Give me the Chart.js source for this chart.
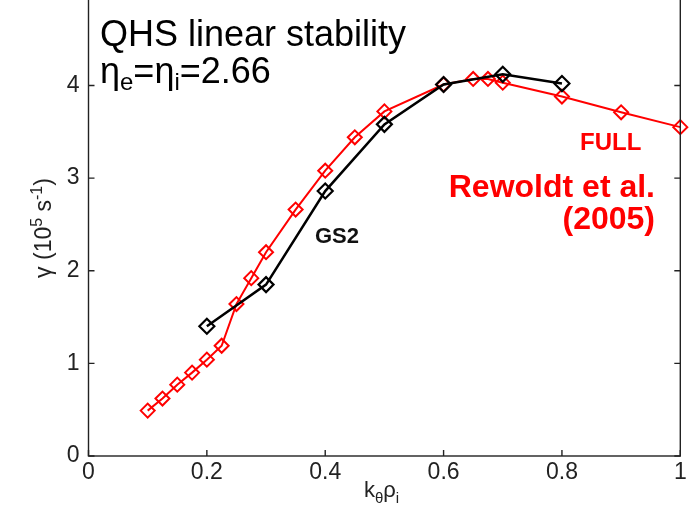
<!DOCTYPE html>
<html><head><meta charset="utf-8">
<script src="https://cdn.jsdelivr.net/npm/chart.js@4/dist/chart.umd.min.js"></script>
<style>
html,body{margin:0;padding:0;background:#fff;overflow:hidden;width:690px;height:506px;}
#wrap{position:absolute;left:0;top:-30px;width:690px;height:536px;}
</style></head><body>
<div id="wrap"><canvas id="c"></canvas></div>
<script>
// ---- data ----
const fullX = [0.1,0.125,0.15,0.175,0.2,0.225,0.25,0.275,0.3,0.35,0.4,0.45,0.5,0.6,0.65,0.675,0.7,0.8,0.9,1.0];
const fullY = [0.49,0.62,0.77,0.90,1.04,1.19,1.64,1.92,2.20,2.66,3.08,3.44,3.72,4.01,4.07,4.07,4.03,3.88,3.71,3.55];
const gs2X = [0.2,0.3,0.4,0.5,0.6,0.7,0.8];
const gs2Y = [1.40,1.85,2.86,3.58,4.01,4.12,4.02];
const xTicks = [0,0.2,0.4,0.6,0.8,1];
const xTickLabels = ['0','0.2','0.4','0.6','0.8','1'];
const yTicks = [0,1,2,3,4,5];
const yTickLabels = ['0','1','2','3','4','5'];

const FONT = '"Liberation Sans", Arial, Helvetica, sans-serif';
const OFF = 30; // canvas is shifted up by this many px

function drawParts(ctx, parts, x, y, align, color, weight) {
  let w = 0;
  parts.forEach(p => { ctx.font = `${weight||'normal'} ${p.size}px ${FONT}`; p.w = ctx.measureText(p.t).width; w += p.w; });
  let cx = align === 'center' ? x - w/2 : (align === 'right' ? x - w : x);
  ctx.fillStyle = color; ctx.textBaseline = 'alphabetic'; ctx.textAlign = 'left';
  parts.forEach(p => { ctx.font = `${weight||'normal'} ${p.size}px ${FONT}`; ctx.fillText(p.t, cx, y + (p.dy||0)); cx += p.w; });
}

const framePlugin = {
  id: 'frame',
  afterDatasetsDraw(chart) {
    const {ctx, chartArea: a, scales} = chart;
    ctx.save();
    ctx.strokeStyle = '#222'; ctx.lineWidth = 1.4;
    ctx.strokeRect(a.left, a.top, a.right - a.left, a.bottom - a.top);
    ctx.beginPath();
    xTicks.forEach(v => { const px = scales.x.getPixelForValue(v);
      ctx.moveTo(px, a.bottom); ctx.lineTo(px, a.bottom - 6);
      ctx.moveTo(px, a.top); ctx.lineTo(px, a.top + 6); });
    yTicks.forEach(v => { const py = scales.y.getPixelForValue(v);
      ctx.moveTo(a.left, py); ctx.lineTo(a.left + 6, py);
      ctx.moveTo(a.right, py); ctx.lineTo(a.right - 6, py); });
    ctx.stroke();
    ctx.restore();
  },
  afterDraw(chart) {
    const ctx = chart.ctx;
    ctx.save();
    drawParts(ctx, [{t:'QHS linear stability', size:36}], 100, 46 + OFF, 'left', '#000');
    drawParts(ctx, [{t:'\u03b7', size:36},{t:'e', size:24, dy:7},{t:'=', size:36},{t:'\u03b7', size:36},{t:'i', size:24, dy:7},{t:'=2.66', size:36}], 100, 83 + OFF, 'left', '#000');
    drawParts(ctx, [{t:'GS2', size:22}], 315, 243 + OFF, 'left', '#111', 'bold');
    drawParts(ctx, [{t:'FULL', size:24}], 580, 150 + OFF, 'left', '#ff0000', 'bold');
    drawParts(ctx, [{t:'Rewoldt et al.', size:32}], 655, 197 + OFF, 'right', '#ff0000', 'bold');
    drawParts(ctx, [{t:'(2005)', size:32}], 655, 229 + OFF, 'right', '#ff0000', 'bold');
    // x axis title
    drawParts(ctx, [{t:'k', size:22},{t:'\u03b8', size:15, dy:6},{t:'\u03c1', size:22},{t:'i', size:15, dy:6}], 364, 497 + OFF, 'left', '#222');
    // y axis title (rotated)
    ctx.translate(43, 228 + OFF);
    ctx.rotate(-Math.PI/2);
    drawParts(ctx, [{t:'\u03b3 (10', size:23},{t:'5', size:16, dy:-9},{t:' s', size:23},{t:'-1', size:16, dy:-9},{t:')', size:23}], 0, 8, 'center', '#222');
    ctx.restore();
  }
};

const mk = (xs, ys) => xs.map((x, i) => ({x: x, y: ys[i]}));

new Chart(document.getElementById('c'), {
  type: 'scatter',
  data: { datasets: [
    { label: 'GS2', data: mk(gs2X, gs2Y), showLine: true, borderColor: '#000', borderWidth: 2.5,
      pointStyle: 'rectRot', pointRadius: 7.5, pointBorderWidth: 2.2, pointBorderColor: '#000',
      pointBackgroundColor: 'rgba(0,0,0,0)', tension: 0, clip: false },
    { label: 'FULL', data: mk(fullX, fullY), showLine: true, borderColor: '#ff0000', borderWidth: 2,
      pointStyle: 'rectRot', pointRadius: 7, pointBorderWidth: 2, pointBorderColor: '#ff0000',
      pointBackgroundColor: 'rgba(0,0,0,0)', tension: 0, clip: false }
  ]},
  options: {
    responsive: true, maintainAspectRatio: false, animation: false,
    events: [],
    layout: { padding: { top: 22, right: 9, left: 0, bottom: 0 } },
    plugins: { legend: { display: false }, tooltip: { enabled: false } },
    scales: {
      x: { type: 'linear', min: 0, max: 1,
        grid: { display: false, drawTicks: false }, border: { display: false },
        afterBuildTicks: s => { s.ticks = xTicks.map(v => ({value: v})); },
        afterFit: s => { s.height = 50; },
        ticks: { padding: 3, autoSkip: false, maxRotation: 0, color: '#222',
          font: { family: FONT, size: 23 }, callback: (v, i) => xTickLabels[i] } },
      y: { type: 'linear', min: 0, max: 5,
        grid: { display: false, drawTicks: false }, border: { display: false },
        afterBuildTicks: s => { s.ticks = yTicks.map(v => ({value: v})); },
        afterFit: s => { s.width = 88.5; },
        ticks: { padding: 9, autoSkip: false, color: '#222',
          font: { family: FONT, size: 23 }, callback: (v, i) => yTickLabels[i] } }
    }
  },
  plugins: [framePlugin]
});
</script>
</body></html>
